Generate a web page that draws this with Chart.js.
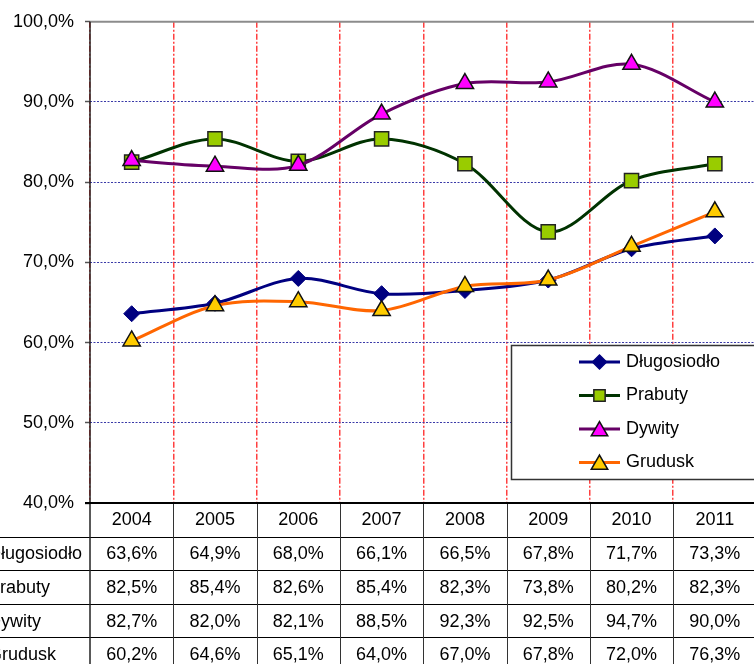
<!DOCTYPE html>
<html>
<head>
<meta charset="utf-8">
<script src="https://cdn.jsdelivr.net/npm/chart.js@4.4.1/dist/chart.umd.min.js"></script>
<style>
  html, body { margin: 0; padding: 0; background: #fff; overflow: hidden; }
  #wrap { position: relative; width: 754px; height: 664px; overflow: hidden; }
  canvas { position: absolute; left: 0; top: 0; }
</style>
</head>
<body>
<div id="wrap"><canvas id="c" width="768" height="664"></canvas></div>
<script>
// ---- Data ----
const years = ['2004', '2005', '2006', '2007', '2008', '2009', '2010', '2011'];
const dlugosiodlo = [63.6, 64.9, 68.0, 66.1, 66.5, 67.8, 71.7, 73.3];
const prabuty     = [82.5, 85.4, 82.6, 85.4, 82.3, 73.8, 80.2, 82.3];
const dywity      = [82.7, 82.0, 82.1, 88.5, 92.3, 92.5, 94.7, 90.0];
const grudusk     = [60.2, 64.6, 65.1, 64.0, 67.0, 67.8, 72.0, 76.3];
const seriesNames = ['Długosiodło', 'Prabuty', 'Dywity', 'Grudusk'];
const yTicks = [40, 50, 60, 70, 80, 90, 100];

const FONT = '"Liberation Sans", Arial, sans-serif';
const fmt = v => v.toFixed(1).replace('.', ',') + '%';

const datasets = [
  { label: seriesNames[0], data: dlugosiodlo, borderColor: '#000080', backgroundColor: '#000080',
    pointStyle: 'rectRot', pointRadius: 8, pointBorderColor: '#000080', pointBorderWidth: 1, order: 4 },
  { label: seriesNames[1], data: prabuty, borderColor: '#003300', backgroundColor: '#99CC00',
    pointStyle: 'rect', pointRadius: 10, pointBorderColor: '#222222', pointBorderWidth: 1.5, order: 3 },
  { label: seriesNames[2], data: dywity, borderColor: '#660066', backgroundColor: '#FF00FF',
    pointStyle: 'triangle', pointRadius: 10, pointBorderColor: '#111111', pointBorderWidth: 1.5, order: 2 },
  { label: seriesNames[3], data: grudusk, borderColor: '#FF6600', backgroundColor: '#FFCC00',
    pointStyle: 'triangle', pointRadius: 10, pointBorderColor: '#111111', pointBorderWidth: 1.5, order: 1 }
].map(d => Object.assign({ borderWidth: 3, tension: 0.33, fill: false, pointHoverRadius: d.pointRadius }, d));

const tablePlugin = {
  id: 'tableAndFrame',
  afterDraw(chart) {
    const ctx = chart.ctx;
    const area = chart.chartArea;
    const xs = chart.scales.x;
    const W = chart.width;
    const rowH = 33.6;
    const step = xs.getPixelForValue(1) - xs.getPixelForValue(0);
    ctx.save();

    // top border
    ctx.strokeStyle = '#8c8c8c';
    ctx.lineWidth = 2;
    ctx.beginPath(); ctx.moveTo(area.left, area.top); ctx.lineTo(W, area.top); ctx.stroke();

    // table horizontal lines
    ctx.strokeStyle = '#000';
    ctx.lineWidth = 1;
    for (let r = 1; r <= 4; r++) {
      const y = Math.round(area.bottom + r * rowH) + 0.5;
      ctx.beginPath(); ctx.moveTo(0, y); ctx.lineTo(W, y); ctx.stroke();
    }
    // table vertical lines
    for (let i = 0; i < years.length; i++) {
      const x = Math.round(xs.getPixelForValue(i) + step / 2) + 0.5;
      ctx.strokeStyle = '#333';
      ctx.beginPath(); ctx.moveTo(x, area.bottom); ctx.lineTo(x, chart.height); ctx.stroke();
    }
    // left axis line (through table)
    ctx.strokeStyle = '#222';
    ctx.lineWidth = 1.5;
    ctx.beginPath(); ctx.moveTo(area.left, area.top); ctx.lineTo(area.left, chart.height); ctx.stroke();
    // x axis line (bottom of plot)
    ctx.strokeStyle = '#000';
    ctx.lineWidth = 2;
    ctx.beginPath(); ctx.moveTo(area.left - 5, area.bottom); ctx.lineTo(W, area.bottom); ctx.stroke();

    // table text
    ctx.fillStyle = '#000';
    ctx.font = '18px ' + FONT;
    ctx.textBaseline = 'middle';
    ctx.textAlign = 'center';
    years.forEach((yr, i) => {
      ctx.fillText(yr, xs.getPixelForValue(i), area.bottom + rowH / 2 + 0.5);
    });
    chart.data.datasets.forEach((ds, r) => {
      const yc = area.bottom + rowH * (r + 1) + rowH / 2 + 1;
      ctx.textAlign = 'left';
      ctx.fillText(ds.label, area.left - 102, yc);
      ctx.textAlign = 'center';
      ds.data.forEach((v, i) => ctx.fillText(fmt(v), xs.getPixelForValue(i), yc));
    });

    // legend box
    const lx = 511.5, ly = 345.5, lh = 134;
    ctx.fillStyle = '#fff';
    ctx.fillRect(lx, ly, W - lx + 10, lh);
    ctx.strokeStyle = '#333';
    ctx.lineWidth = 1.5;
    ctx.strokeRect(lx, ly, W - lx + 10, lh);
    chart.data.datasets.forEach((ds, r) => {
      const cy = 362 + r * 33.5;
      ctx.strokeStyle = ds.borderColor;
      ctx.lineWidth = 3;
      ctx.beginPath(); ctx.moveTo(579, cy); ctx.lineTo(620, cy); ctx.stroke();
      ctx.fillStyle = ds.backgroundColor;
      ctx.strokeStyle = ds.pointBorderColor;
      ctx.lineWidth = 1.5;
      const rad = ds.pointStyle === 'rectRot' ? 7 : (ds.pointStyle === 'rect' ? 8 : 9.5);
      Chart.helpers.drawPoint(ctx, { pointStyle: ds.pointStyle, radius: rad, rotation: 0, borderWidth: 1.5 }, 599.5, cy + (ds.pointStyle === 'triangle' ? 2 : 0));
      ctx.fillStyle = '#000';
      ctx.textAlign = 'left';
      ctx.font = '18px ' + FONT;
      ctx.fillText(ds.label, 626, cy);
    });
    ctx.restore();
  }
};

new Chart(document.getElementById('c'), {
  type: 'line',
  data: { labels: years, datasets },
  options: {
    responsive: false,
    devicePixelRatio: 1,
    animation: false,
    layout: { padding: { top: 19, bottom: 161, left: 0, right: 0 } },
    plugins: { legend: { display: false }, tooltip: { enabled: false } },
    scales: {
      x: {
        type: 'category',
        offset: true,
        ticks: { display: false },
        grid: { offset: true, color: 'rgba(255,30,30,0.85)', lineWidth: 1.5, drawTicks: false },
        border: { display: false, dash: [6, 2, 2, 2] },
        afterFit: s => { s.height = 0; }
      },
      y: {
        min: 40, max: 100,
        afterBuildTicks: s => { s.ticks = yTicks.map(v => ({ value: v })); },
        ticks: {
          color: '#000',
          font: { family: FONT, size: 18 },
          padding: 11,
          callback: v => fmt(v)
        },
        grid: {
          color: c => (c.tick && (c.tick.value === 40 || c.tick.value === 100)) ? 'rgba(0,0,0,0)' : '#3a3aa8',
          lineWidth: 1,
          tickColor: '#555',
          tickLength: 5,
          tickWidth: 1.5
        },
        border: { display: false, dash: [2, 1.5] },
        afterFit: s => { s.width = 90; }
      }
    }
  },
  plugins: [tablePlugin]
});
</script>
</body>
</html>
